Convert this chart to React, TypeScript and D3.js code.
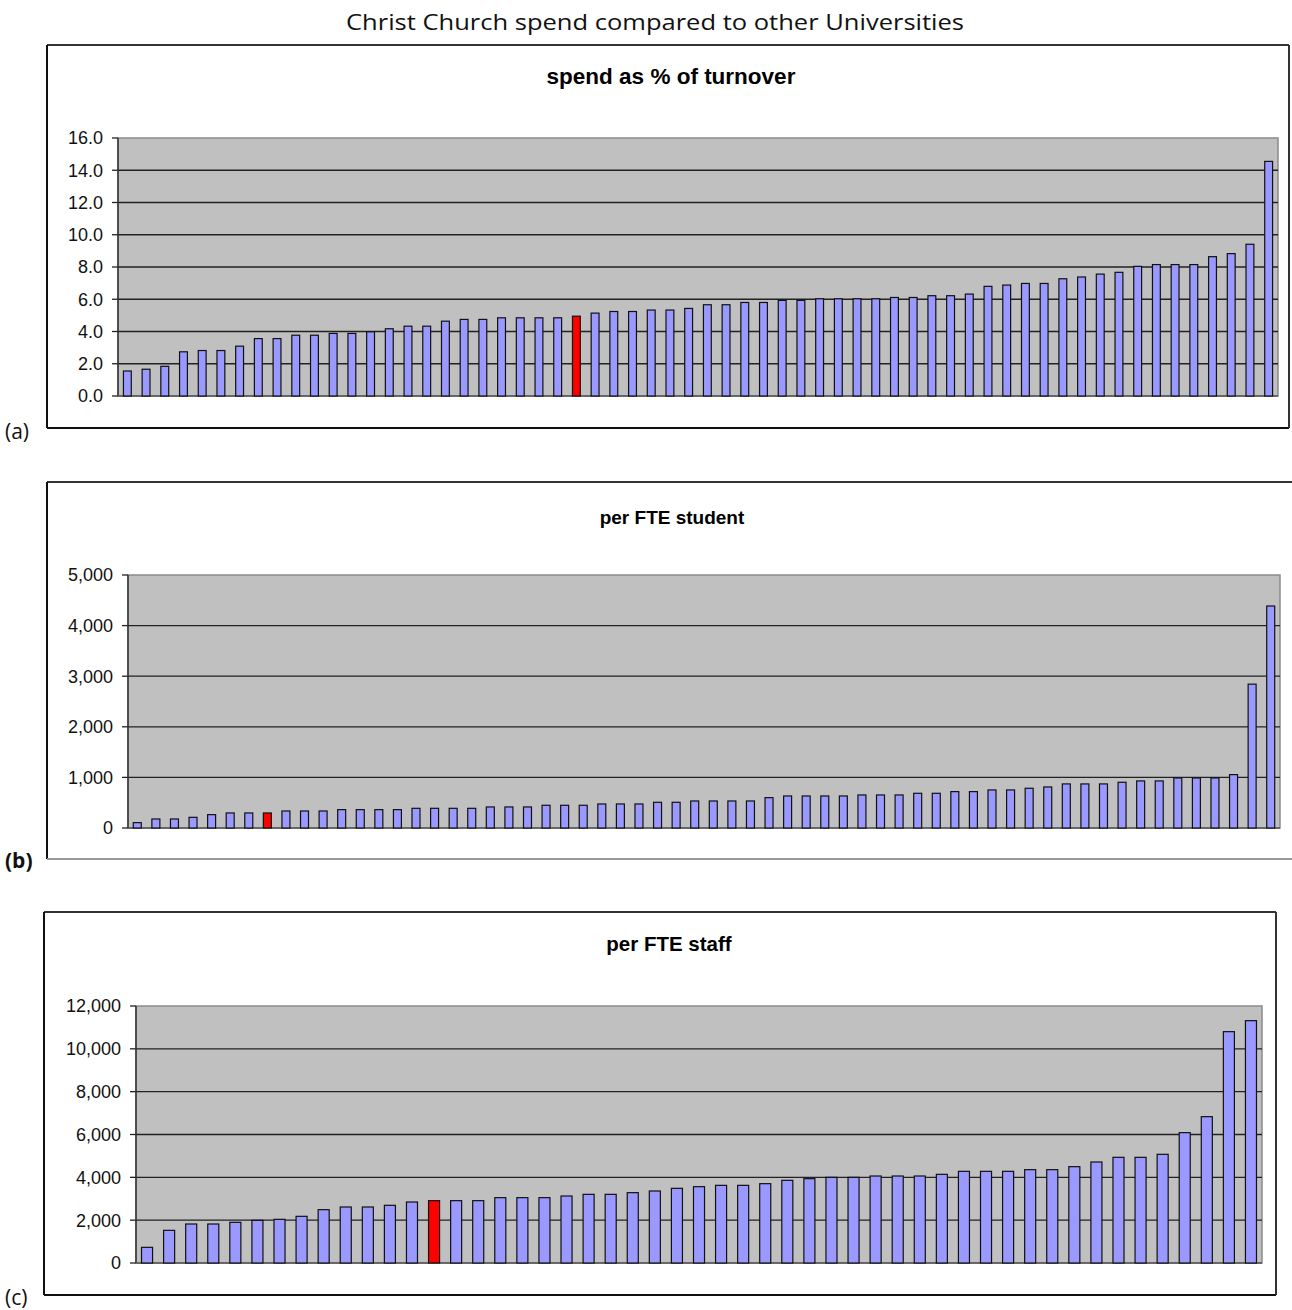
import React from "react";
import * as d3 from "d3";

const turnoverPct = [1.55,1.66,1.84,2.74,2.82,2.82,3.09,3.56,3.56,3.77,3.77,3.88,3.88,3.98,4.17,4.33,4.33,4.64,4.75,4.75,4.85,4.85,4.85,4.85,4.95,5.14,5.24,5.24,5.33,5.33,5.43,5.66,5.66,5.80,5.80,5.93,5.93,6.03,6.03,6.03,6.03,6.11,6.11,6.22,6.22,6.32,6.80,6.88,6.98,6.98,7.27,7.38,7.56,7.67,8.04,8.15,8.15,8.15,8.64,8.83,9.41,14.55];
const perStudent = [106,178,178,211,264,297,297,297,336,336,336,363,363,363,363,389,389,389,389,416,416,416,449,449,449,475,475,475,508,508,534,534,534,534,600,633,633,633,633,653,653,653,686,686,719,719,752,752,785,811,871,871,871,904,930,930,989,989,989,1055,2843,4387];
const perStaff = [731,1525,1821,1821,1899,1992,2039,2179,2490,2615,2615,2693,2848,2911,2911,2911,3051,3051,3051,3128,3206,3206,3284,3362,3486,3564,3626,3626,3704,3860,3938,4000,4000,4062,4062,4062,4140,4280,4280,4280,4358,4358,4498,4716,4934,4934,5074,6086,6833,10802,11315];

const highlightIdx = [24, 7, 13];
const panelTitles = ["spend as % of turnover", "per FTE student", "per FTE staff"];
const panelLabels = ["(a)", "(b)", "(c)"];
const ticksA = [0, 2, 4, 6, 8, 10, 12, 14, 16];
const ticksB = [0, 1000, 2000, 3000, 4000, 5000];
const ticksC = [0, 2000, 4000, 6000, 8000, 10000, 12000];
const mainTitle = "Christ Church spend compared to other Universities";

const layouts = [
  { frame: [47, 45, 1289, 428], plot: [118, 138, 1278, 396], titleX: 671, titleY: 84, titleSize: 22.5, labelY: 439, labelBold: false, fmt: d3.format(".1f"), ticks: ticksA, data: turnoverPct, pad: 0.58, frameRight: true },
  { frame: [47, 482, 1310, 859], plot: [128, 575, 1280, 828], titleX: 672, titleY: 524, titleSize: 19, labelY: 868, labelBold: true, fmt: d3.format(","), ticks: ticksB, data: perStudent, pad: 0.57, frameRight: false },
  { frame: [44, 912, 1276, 1295], plot: [136, 1006, 1262, 1263], titleX: 669, titleY: 951, titleSize: 20.5, labelY: 1305, labelBold: false, fmt: d3.format(","), ticks: ticksC, data: perStaff, pad: 0.5, frameRight: true },
];

function Panel({ idx }: { idx: number }) {
  const L = layouts[idx];
  const [px0, py0, px1, py1] = L.plot;
  const [fx0, fy0, fx1, fy1] = L.frame;
  const x = d3.scaleBand<number>().domain(d3.range(L.data.length)).range([px0, px1]).paddingInner(L.pad).paddingOuter(L.pad / 2);
  const y = d3.scaleLinear().domain([0, L.ticks[L.ticks.length - 1]]).range([py1, py0]);
  const hl = highlightIdx[idx];
  return (
    <g>
      <rect x={fx0} y={fy0} width={fx1 - fx0} height={fy1 - fy0} fill="#fff" stroke="none" />
      <line x1={fx0} y1={fy0} x2={fx1} y2={fy0} stroke="#333" strokeWidth={2} />
      <line x1={fx0} y1={fy0} x2={fx0} y2={fy1} stroke="#111" strokeWidth={2} />
      <line x1={fx0} y1={fy1} x2={fx1} y2={fy1} stroke={idx === 1 ? "#999" : "#111"} strokeWidth={2} />
      {L.frameRight && <line x1={fx1} y1={fy0} x2={fx1} y2={fy1} stroke="#333" strokeWidth={2} />}
      <text x={L.titleX} y={L.titleY} textAnchor="middle" fontFamily="Liberation Sans, Arial, sans-serif" fontWeight="bold" fontSize={L.titleSize}>{panelTitles[idx]}</text>
      <rect x={px0} y={py0} width={px1 - px0} height={py1 - py0} fill="#C0C0C0" stroke="#8a8a8a" strokeWidth={1.5} />
      {L.ticks.map((t) => (
        <g key={t}>
          {t !== 0 && t !== L.ticks[L.ticks.length - 1] && (
            <line x1={px0} x2={px1} y1={y(t)} y2={y(t)} stroke="#222" strokeWidth={1.3} />
          )}
          <line x1={px0 - 6} x2={px0} y1={y(t)} y2={y(t)} stroke="#222" strokeWidth={1.3} />
          <text x={px0 - 15} y={y(t)} dy="0.36em" textAnchor="end" fontFamily="Liberation Sans, Arial, sans-serif" fontSize={18} fill="#111">{L.fmt(t)}</text>
        </g>
      ))}
      <line x1={px0} x2={px0} y1={py0} y2={py1} stroke="#333" strokeWidth={1.5} />
      <line x1={px0} x2={px1} y1={py1} y2={py1} stroke="#555" strokeWidth={1.5} />
      {L.data.map((v, i) => (
        <rect key={i} x={x(i)!} y={y(v)} width={x.bandwidth()} height={y(0) - y(v)}
          fill={i === hl ? "#FF0000" : "#9999FF"} stroke="#111" strokeWidth={1.2} />
      ))}
      <text x={5} y={L.labelY} fontFamily="Open Sans, sans-serif" fontSize={21} fontWeight={L.labelBold ? "bold" : "normal"} fill="#111">{panelLabels[idx]}</text>
    </g>
  );
}

export default function App() {
  return (
    <svg width={1292} height={1310} style={{ position: "absolute", left: 0, top: 0, background: "#fff" }}>
      <rect x={0} y={0} width={1292} height={1310} fill="#fff" />
      <text x={655} y={30} textAnchor="middle" fontFamily="Open Sans, sans-serif" fontSize={22} textLength={618} lengthAdjust="spacingAndGlyphs" fill="#111">{mainTitle}</text>
      <Panel idx={0} />
      <Panel idx={1} />
      <Panel idx={2} />
    </svg>
  );
}
